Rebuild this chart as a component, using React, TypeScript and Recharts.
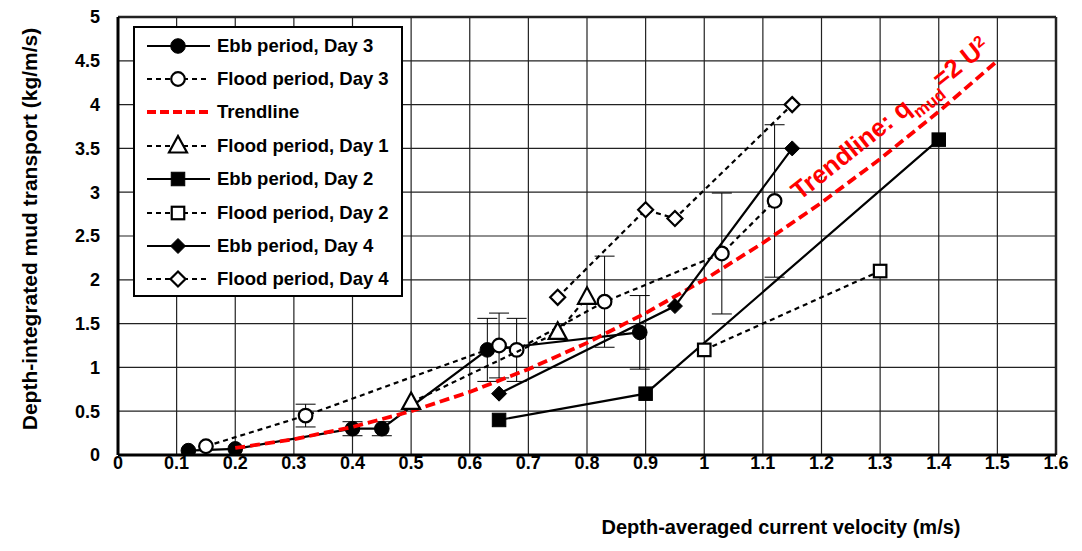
import React from 'react';
import {
  ScatterChart,
  Scatter,
  XAxis,
  YAxis,
  CartesianGrid,
  ErrorBar,
  ReferenceLine,
  ReferenceDot,
} from 'recharts';

// ticks
const X_TICKS = [0, 0.1, 0.2, 0.3, 0.4, 0.5, 0.6, 0.7, 0.8, 0.9, 1, 1.1, 1.2, 1.3, 1.4, 1.5, 1.6];
const Y_TICKS = [0, 0.5, 1, 1.5, 2, 2.5, 3, 3.5, 4, 4.5, 5];

// series values
const ebbDay3X = [0.12, 0.2, 0.4, 0.45, 0.63, 0.89];
const ebbDay3Y = [0.05, 0.07, 0.3, 0.3, 1.2, 1.4];
const ebbDay3Err = [0, 0, 0.08, 0.08, 0.36, 0.42];

const floodDay3X = [0.15, 0.32, 0.65, 0.68, 0.83, 1.03, 1.12];
const floodDay3Y = [0.1, 0.45, 1.25, 1.2, 1.75, 2.3, 2.9];
const floodDay3Err = [0, 0.13, 0.37, 0.36, 0.52, 0.69, 0.87];

const trendX = [0.2, 0.3, 0.4, 0.5, 0.6, 0.7, 0.8, 0.9, 1.0, 1.1, 1.2, 1.3, 1.4, 1.5];
const trendY = [0.08, 0.18, 0.32, 0.5, 0.72, 0.98, 1.28, 1.62, 2.0, 2.42, 2.88, 3.38, 3.92, 4.5];

const floodDay1X = [0.5, 0.75, 0.8];
const floodDay1Y = [0.6, 1.4, 1.8];

const ebbDay2X = [0.65, 0.9, 1.4];
const ebbDay2Y = [0.4, 0.7, 3.6];

const floodDay2X = [1.0, 1.3];
const floodDay2Y = [1.2, 2.1];

const ebbDay4X = [0.65, 0.95, 1.15];
const ebbDay4Y = [0.7, 1.7, 3.5];

const floodDay4X = [0.75, 0.9, 0.95, 1.15];
const floodDay4Y = [1.8, 2.8, 2.7, 4.0];

const zip = (xs: number[], ys: number[], errs?: number[]) =>
  xs.map((x, i) => ({ x, y: ys[i], err: errs ? errs[i] : 0 }));

const FONT = '"Liberation Sans", Arial, sans-serif';
const DASH = '5 4';
const LW = 2.2;

type Kind = 'circle' | 'circleOpen' | 'triangleOpen' | 'square' | 'squareOpen' | 'diamond' | 'diamondOpen' | 'none';

function Marker({ kind, cx, cy }: { kind: Kind; cx: number; cy: number }) {
  if (kind === 'none' || cx == null || cy == null) return <g />;
  const open = kind.endsWith('Open');
  const fill = open ? '#fff' : '#000';
  const sw = open ? 2.2 : 1;
  if (kind.startsWith('circle')) {
    return <circle cx={cx} cy={cy} r={open ? 6.8 : 7.3} fill={fill} stroke="#000" strokeWidth={sw} />;
  }
  if (kind.startsWith('square')) {
    const s = open ? 12.5 : 13.5;
    return <rect x={cx - s / 2} y={cy - s / 2} width={s} height={s} fill={fill} stroke="#000" strokeWidth={sw} />;
  }
  if (kind.startsWith('diamond')) {
    const r = 7.5;
    return (
      <polygon
        points={`${cx},${cy - r} ${cx + r},${cy} ${cx},${cy + r} ${cx - r},${cy}`}
        fill={fill}
        stroke="#000"
        strokeWidth={sw}
      />
    );
  }
  // open triangle
  return (
    <polygon
      points={`${cx},${cy - 10} ${cx + 9},${cy + 6.5} ${cx - 9},${cy + 6.5}`}
      fill="#fff"
      stroke="#000"
      strokeWidth={2.2}
    />
  );
}

const shapeOf = (kind: Kind) => (props: any) => <Marker kind={kind} cx={props.cx} cy={props.cy} />;

const LEGEND_ROWS: { name: string; kind: Kind; dashed: boolean; red?: boolean }[] = [
  { name: 'Ebb period, Day 3', kind: 'circle', dashed: false },
  { name: 'Flood period, Day 3', kind: 'circleOpen', dashed: true },
  { name: 'Trendline', kind: 'none', dashed: true, red: true },
  { name: 'Flood period, Day 1', kind: 'triangleOpen', dashed: true },
  { name: 'Ebb period, Day 2', kind: 'square', dashed: false },
  { name: 'Flood period, Day 2', kind: 'squareOpen', dashed: true },
  { name: 'Ebb period, Day 4', kind: 'diamond', dashed: false },
  { name: 'Flood period, Day 4', kind: 'diamondOpen', dashed: true },
];

function LegendBox() {
  return (
    <div
      style={{
        position: 'absolute',
        left: 125,
        top: 18,
        width: 266,
        height: 266,
        border: '2px solid #000',
        background: '#fff',
        paddingTop: 1,
      }}
    >
      {LEGEND_ROWS.map((row) => (
        <div key={row.name} style={{ display: 'flex', alignItems: 'center', height: 33.4 }}>
          <svg width={80} height={24} style={{ flex: 'none' }}>
            {row.red ? (
              <line x1={12} y1={12} x2={75} y2={12} stroke="#ff0000" strokeWidth={3.8} strokeDasharray="9 4" />
            ) : (
              <line
                x1={12}
                y1={12}
                x2={75}
                y2={12}
                stroke="#000"
                strokeWidth={LW}
                strokeDasharray={row.dashed ? DASH : undefined}
              />
            )}
            <Marker kind={row.kind} cx={43} cy={12} />
          </svg>
          <span style={{ fontFamily: FONT, fontWeight: 700, fontSize: 18.5, color: '#000', marginLeft: 2 }}>
            {row.name}
          </span>
        </div>
      ))}
    </div>
  );
}

function TrendLabel(props: any) {
  const { viewBox } = props;
  const x = viewBox.cx ?? viewBox.x;
  const y = viewBox.cy ?? viewBox.y;
  return (
    <text
      x={x}
      y={y}
      transform={`rotate(-38.5 ${x} ${y})`}
      fill="#ff0000"
      fontFamily={FONT}
      fontWeight={700}
      fontSize={25.5}
    >
      Trendline: q
      <tspan baselineShift="sub" fontSize={17}>mud</tspan>
      <tspan baselineShift="0">=2 U</tspan>
      <tspan baselineShift="super" fontSize={16}>2</tspan>
    </text>
  );
}

function YTitle() {
  const cx = 21;
  const cy = 221;
  return (
    <text
      x={cx}
      y={cy}
      transform={`rotate(-90 ${cx} ${cy})`}
      textAnchor="middle"
      dominantBaseline="central"
      fontFamily={FONT}
      fontWeight={700}
      fontSize={21}
      fill="#000"
    >
      Depth-integrated mud transport (kg/m/s)
    </text>
  );
}

const tickStyle = { fontFamily: FONT, fontWeight: 700, fontSize: 18, fill: '#000' };

export default function App() {
  return (
    <div style={{ position: 'relative', width: 1066, height: 535, background: '#fff' }}>
      <ScatterChart width={1066} height={535} margin={{ top: 9, right: 18, left: 0, bottom: 0 }}>
        <CartesianGrid stroke="#222" strokeWidth={1.2} />
        <XAxis
          type="number"
          dataKey="x"
          domain={[0, 1.6]}
          ticks={X_TICKS}
          interval={0}
          height={88}
          tickLine={false}
          tickSize={0}
          tickMargin={1}
          tick={tickStyle}
          axisLine={{ stroke: '#000', strokeWidth: 3 }}
          allowDataOverflow
        />
        <YAxis
          type="number"
          dataKey="y"
          domain={[0, 5]}
          ticks={Y_TICKS}
          interval={0}
          width={110}
          tickLine={false}
          tickSize={0}
          tickMargin={18}
          tick={tickStyle}
          axisLine={{ stroke: '#000', strokeWidth: 3 }}
          allowDataOverflow
          label={<YTitle />}
        />
        <ReferenceLine y={5} stroke="#222" strokeWidth={2.5} />
        <ReferenceLine x={1.6} stroke="#222" strokeWidth={2.5} />

        <Scatter
          name="Ebb period, Day 3"
          data={zip(ebbDay3X, ebbDay3Y, ebbDay3Err)}
          line={{ stroke: '#000', strokeWidth: LW }}
          shape={shapeOf('circle')}
          isAnimationActive={false}
        >
          <ErrorBar dataKey="err" direction="y" width={10} stroke="#000" strokeWidth={1} />
        </Scatter>
        <Scatter
          name="Flood period, Day 3"
          data={zip(floodDay3X, floodDay3Y, floodDay3Err)}
          line={{ stroke: '#000', strokeWidth: LW, strokeDasharray: DASH }}
          shape={shapeOf('circleOpen')}
          isAnimationActive={false}
        >
          <ErrorBar dataKey="err" direction="y" width={10} stroke="#000" strokeWidth={1} />
        </Scatter>
        <Scatter
          name="Trendline"
          data={zip(trendX, trendY)}
          line={{ stroke: '#ff0000', strokeWidth: 3.8, strokeDasharray: '10 5' }}
          shape={shapeOf('none')}
          isAnimationActive={false}
        />
        <Scatter
          name="Flood period, Day 1"
          data={zip(floodDay1X, floodDay1Y)}
          line={{ stroke: '#000', strokeWidth: LW, strokeDasharray: DASH }}
          shape={shapeOf('triangleOpen')}
          isAnimationActive={false}
        />
        <Scatter
          name="Ebb period, Day 2"
          data={zip(ebbDay2X, ebbDay2Y)}
          line={{ stroke: '#000', strokeWidth: LW }}
          shape={shapeOf('square')}
          isAnimationActive={false}
        />
        <Scatter
          name="Flood period, Day 2"
          data={zip(floodDay2X, floodDay2Y)}
          line={{ stroke: '#000', strokeWidth: LW, strokeDasharray: DASH }}
          shape={shapeOf('squareOpen')}
          isAnimationActive={false}
        />
        <Scatter
          name="Ebb period, Day 4"
          data={zip(ebbDay4X, ebbDay4Y)}
          line={{ stroke: '#000', strokeWidth: LW }}
          shape={shapeOf('diamond')}
          isAnimationActive={false}
        />
        <Scatter
          name="Flood period, Day 4"
          data={zip(floodDay4X, floodDay4Y)}
          line={{ stroke: '#000', strokeWidth: LW, strokeDasharray: DASH }}
          shape={shapeOf('diamondOpen')}
          isAnimationActive={false}
        />

        <ReferenceDot x={1.163} y={2.9} r={0} stroke="none" fill="none" label={<TrendLabel />} />
      </ScatterChart>
      <LegendBox />
      <div
        style={{
          position: 'absolute',
          left: 573,
          width: 400,
          top: 507,
          lineHeight: '24px',
          textAlign: 'center',
          fontFamily: FONT,
          fontWeight: 700,
          fontSize: 20,
          color: '#000',
          whiteSpace: 'nowrap',
        }}
      >
        Depth-averaged current velocity (m/s)
      </div>
    </div>
  );
}
